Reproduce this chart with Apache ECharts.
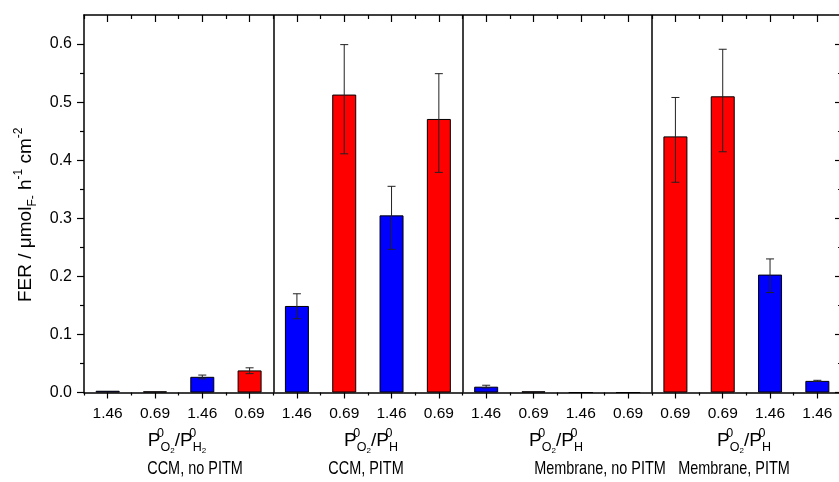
<!DOCTYPE html>
<html>
    <head>
        <meta charset="UTF-8">
        <title></title>
        <script src="https://cdn.jsdelivr.net/npm/echarts@6/dist/echarts.min.js"></script>
    </head>
    <body style="margin:0">
        <div id="main" style="width: 839px; height: 482px;"></div>
        <script>
            // partial pressure ratio under each bar
            var ratioLabels = ['1.46', '0.69', '1.46', '0.69', '1.46', '0.69', '1.46', '0.69',
                               '1.46', '0.69', '1.46', '0.69', '0.69', '0.69', '1.46', '1.46'];
            // FER values
            var ferValues = [0.003, 0.002, 0.027, 0.038, 0.149, 0.513, 0.305, 0.471,
                             0.010, 0.002, 0, 0, 0.441, 0.510, 0.203, 0.020];
            // error bar ends
            var errLow = [null, null, 0.0235, 0.0325, 0.127, 0.411, 0.2465, 0.379,
                          0.008, null, null, null, 0.362, 0.4145, 0.172, 0.019];
            var errHigh = [null, null, 0.030, 0.0425, 0.170, 0.599, 0.355, 0.549,
                           0.0125, null, null, null, 0.508, 0.591, 0.230, 0.021];
            var panelNames = ['CCM, no PITM', 'CCM, PITM', 'Membrane, no PITM', 'Membrane, PITM'];
            var panelEdges = [4.5, 8.5, 12.5];
            var yTicks = [0, 0.1, 0.2, 0.3, 0.4, 0.5, 0.6];
            var yMinor = [0.05, 0.15, 0.25, 0.35, 0.45, 0.55];

            var font = 'Liberation Sans, Arial, sans-serif';
            var xMajor = ratioLabels.map(function (r, i) { return i + 1; });
            var xMinor = [];
            for (var k = 0; k <= ratioLabels.length; k++) xMinor.push(k + 0.5);

            var barData = ferValues.map(function (v, i) { return [i + 1, v]; });
            var errData = [];
            errLow.forEach(function (lo, i) {
                if (lo != null) errData.push([i + 1, lo, errHigh[i]]);
            });

            function xAx(pos, custom, len, inside, line, label) {
                return {
                    type: 'value', position: pos, min: 0.5, max: 16.5,
                    axisLine: { show: line, onZero: false, lineStyle: { color: '#000', width: 1.5 } },
                    axisTick: { show: true, customValues: custom, length: len, inside: inside,
                                lineStyle: { color: '#000', width: 1.2 } },
                    axisLabel: label ? {
                        show: true, customValues: xMajor, color: '#000', fontSize: 15.5, fontFamily: font, margin: 13,
                        formatter: function (v) { return ratioLabels[Math.round(v) - 1]; }
                    } : { show: false },
                    splitLine: { show: false }
                };
            }
            function yAx(pos, custom, len, inside, line, label) {
                return {
                    type: 'value', position: pos, min: 0, max: 0.65,
                    axisLine: { show: line, onZero: false, lineStyle: { color: '#000', width: 1.5 } },
                    axisTick: { show: true, customValues: custom, length: len, inside: inside,
                                lineStyle: { color: '#000', width: 1.2 } },
                    axisLabel: label ? {
                        show: true, customValues: yTicks, color: '#000', fontSize: 16, fontFamily: font, margin: 12,
                        formatter: function (v) { return v.toFixed(1); }
                    } : { show: false },
                    splitLine: { show: false }
                };
            }

            var yName = yAx('left', yTicks, 7, false, true, true);
            yName.name = '{t|FER / μmol}{sub|F-}{t| h}{sup|-1}{t| cm}{sup|-2}';
            yName.nameLocation = 'middle';
            yName.nameRotate = 90;
            yName.nameGap = 45;
            yName.nameTextStyle = {
                color: '#000', fontFamily: font, padding: [0, 22, 0, 0],
                rich: {
                    t: { fontSize: 19, fontFamily: font, color: '#000', lineHeight: 26 },
                    sub: { fontSize: 12, fontFamily: font, color: '#000', lineHeight: 12, verticalAlign: 'bottom' },
                    sup: { fontSize: 12, fontFamily: font, color: '#000', lineHeight: 13, verticalAlign: 'top' }
                }
            };

            var formulaRich = {
                b: { fontSize: 19, fontFamily: font, fill: '#000', lineHeight: 27 },
                sup: { fontSize: 12.5, fontFamily: font, fill: '#000', lineHeight: 12, verticalAlign: 'top', width: 0 },
                sub: { fontSize: 12.5, fontFamily: font, fill: '#000', lineHeight: 10, verticalAlign: 'bottom' },
                sub2: { fontSize: 8, fontFamily: font, fill: '#000', lineHeight: 4, verticalAlign: 'bottom' }
            };
            var formulas = [
                '{b|P}{sup|0}{sub|O}{sub2|2}{b|/P}{sup|0}{sub|H}{sub2|2}',
                '{b|P}{sup|0}{sub|O}{sub2|2}{b|/P}{sup|0}{sub|H}',
                '{b|P}{sup|0}{sub|O}{sub2|2}{b|/P}{sup|0}{sub|H}',
                '{b|P}{sup|0}{sub|O}{sub2|2}{b|/P}{sup|0}{sub|H}'
            ];
            var formulaX = [177, 371, 556, 744];
            var nameX = [195, 366, 600, 734];
            var graphics = [];
            panelNames.forEach(function (n, i) {
                graphics.push({
                    type: 'text', x: formulaX[i], y: 441,
                    style: { text: formulas[i], rich: formulaRich, fontFamily: font, fontSize: 19,
                             fill: '#000', align: 'center', verticalAlign: 'middle' }
                });
                graphics.push({
                    type: 'text', x: nameX[i], y: 469, scaleX: 0.76,
                    style: { text: n, fontFamily: font, fontSize: 19, fill: '#000',
                             align: 'center', verticalAlign: 'middle' }
                });
            });

            var chart = echarts.init(document.getElementById('main'));
            chart.setOption({
                animation: false,
                backgroundColor: '#fff',
                grid: { left: 84, right: -2, top: 15, bottom: 89.5, containLabel: false, outerBoundsMode: 'none' },
                xAxis: [
                    xAx('bottom', xMajor, 6, false, true, true),
                    xAx('bottom', xMinor, 3, false, false, false),
                    xAx('top', xMajor, 7, true, true, false),
                    xAx('top', xMinor, 4, true, false, false)
                ],
                yAxis: [
                    yName,
                    yAx('left', yMinor, 4, false, false, false),
                    yAx('right', yTicks, 6, true, true, false),
                    yAx('right', yMinor, 3, true, false, false)
                ],
                graphic: graphics,
                series: [{
                    type: 'bar',
                    data: barData,
                    barWidth: 24,
                    itemStyle: {
                        borderColor: '#000', borderWidth: 1,
                        color: function (p) { return ratioLabels[p.dataIndex] === '1.46' ? '#0000ff' : '#ff0000'; }
                    },
                    markLine: {
                        silent: true, symbol: 'none', label: { show: false },
                        lineStyle: { color: '#000', width: 1.5, type: 'solid' },
                        data: panelEdges.map(function (e) { return { xAxis: e }; })
                    }
                }, {
                    type: 'custom',
                    data: errData,
                    z: 5,
                    renderItem: function (params, api) {
                        var top = api.coord([api.value(0), api.value(2)]);
                        var bot = api.coord([api.value(0), api.value(1)]);
                        var w = 4;
                        var st = { stroke: '#222', lineWidth: 1 };
                        return {
                            type: 'group',
                            children: [
                                { type: 'line', shape: { x1: top[0], y1: top[1], x2: bot[0], y2: bot[1] }, style: st },
                                { type: 'line', shape: { x1: top[0] - w, y1: top[1], x2: top[0] + w, y2: top[1] }, style: st },
                                { type: 'line', shape: { x1: bot[0] - w, y1: bot[1], x2: bot[0] + w, y2: bot[1] }, style: st }
                            ]
                        };
                    }
                }]
            });
        </script>
    </body>
</html>
